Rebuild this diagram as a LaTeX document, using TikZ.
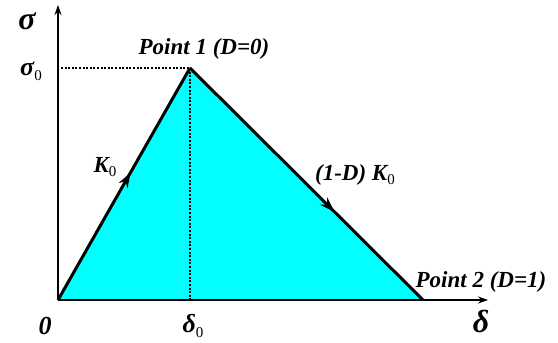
\documentclass[tikz,border=0pt]{standalone}
\usepackage{fontspec}
\setmainfont{Liberation Serif}
\usepackage{tikz}
\usetikzlibrary{positioning, calc, decorations.markings, arrows.meta}

\newcommand{\lowzero}{\raisebox{-0.4ex}{\fontsize{15}{16}\selectfont\upshape\mdseries 0}}

\begin{document}
\begin{tikzpicture}[x=1pt, y=1pt,
  eixo/.style={line width=2.8pt, -{Stealth[length=10pt, width=7pt]}},
  ramo/.style={line width=3pt, line join=miter},
  guia/.style={line width=2pt, dash pattern=on 2pt off 1.6pt},
  rotulo/.style={font=\fontsize{23}{26}\selectfont\bfseries\itshape, inner sep=0pt},
  medida/.style={font=\fontsize{26}{28}\selectfont\bfseries\itshape, inner sep=0pt},
  grego/.style={font=\fontsize{32}{34}\selectfont\bfseries\itshape, inner sep=0pt,
      text height=0.6em, text depth=0.1em},
  seta/.style={postaction={decorate, decoration={markings,
      mark=at position #1 with {\arrow{Stealth[length=15pt, width=10pt]}}}}}]
% --- CORES ---
\definecolor{preenche}{RGB}{0,255,255}
\useasboundingbox (0,0) rectangle (558,343);

% LAYER 1: Pontos principais
\coordinate (O) at (58,43);
\coordinate (topo) at (58,338);
\coordinate (fim) at (488,43);
\coordinate (pico) at (190,275);
\coordinate (ruptura) at (423,43);

% LAYER 2: Triangulo preenchido
\fill[preenche] (O) -- (pico) -- (ruptura) -- cycle;

% LAYER 3: Linhas guia
\draw[guia] (61,275) -- (pico);
\draw[guia] (pico) -- (190,44);

% LAYER 4: Eixos
\draw[eixo] (O) -- (topo);
\draw[eixo] (O) -- (fim);

% LAYER 5: Ramos de carga e dano
\draw[ramo, seta=0.55] (O) -- (pico);
\draw[ramo, seta=0.62] (pico) -- (ruptura);

% LAYER 6: Rotulos
\node[grego, anchor=base] (sig) at (27,313) {σ};
\node[medida] (sigzero) at (31,272) {σ\lowzero};
\node[rotulo] (pt1) at (204,294) {Point 1 (D=0)};
\node[rotulo] (kzero) at (105,176) {K\lowzero};
\node[rotulo] (kdano) at (355,168) {(1-D) K\lowzero};
\node[rotulo] (pt2) at (481,61) {Point 2 (D=1)};
\node[medida] (zero) at (45,17) {0};
\node[medida] (delzero) at (193,17) {δ\lowzero};
\node[grego, anchor=base] (del) at (481,10) {δ};
\end{tikzpicture}
\end{document}
